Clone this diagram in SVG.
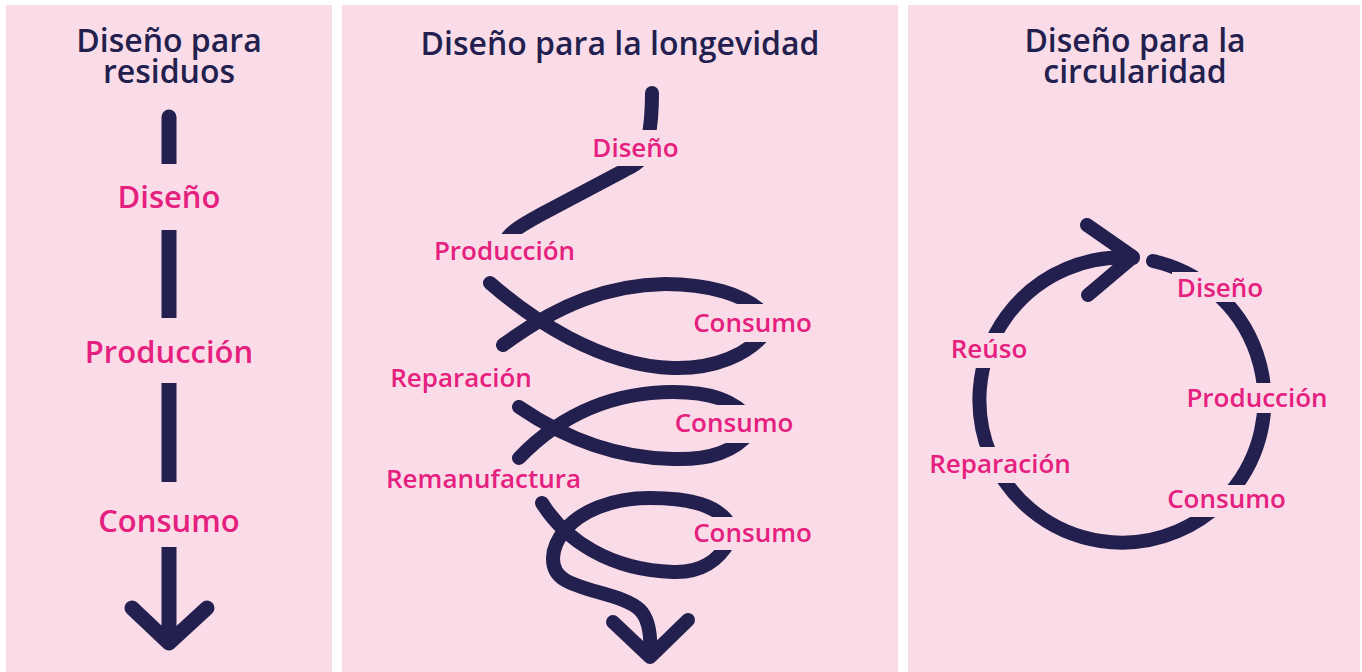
<svg xmlns="http://www.w3.org/2000/svg" width="1362" height="672" viewBox="0 0 1362 672">
<style>
.panel{fill:#FADCE9}
.bg{fill:#FADCE9}
.title{font-family:"Open Sans","Liberation Sans",sans-serif;font-weight:600;font-size:32px;fill:#231F4E;text-anchor:middle}
.lbl{font-family:"Open Sans","Liberation Sans",sans-serif;font-weight:600;font-size:26px;fill:#E6207E;text-anchor:middle}
.lbl1{font-family:"Open Sans","Liberation Sans",sans-serif;font-weight:600;font-size:31px;fill:#E6207E;text-anchor:middle}
.ln{fill:none;stroke:#231F4E;stroke-width:14;stroke-linecap:round;stroke-linejoin:round}
</style>
<rect width="1362" height="672" fill="#FFFFFF"/>
<g id="panels">
<rect class="panel" x="6" y="5" width="326" height="667"/>
<rect class="panel" x="342" y="5" width="556" height="667"/>
<rect class="panel" x="908" y="5" width="452" height="667"/>
</g>
<g id="titles">
<text class="title" x="169" y="52">Diseño para<tspan x="169" dy="31">residuos</tspan></text>
<text class="title" x="620" y="55">Diseño para la longevidad</text>
<text class="title" x="1135" y="52">Diseño para la<tspan x="1135" dy="31">circularidad</tspan></text>
</g>
<g id="connectors">
<path class="ln" style="stroke-width:15" d="M169,117 L169,643 M132,608 L169,643 L207,608"/>
<path class="ln" d="M652,93 C652,110 651,125 648,140 C645,158 640,163 625,170 L540,215 C520,226 508,233 503,245"/>
<path class="ln" d="M490,283 C530,318 600,366 673,368 C715,369 748,355 768,330"/>
<path class="ln" d="M765,315 C745,293 705,284 665,284 C610,285 560,303 503,345"/>
<path class="ln" d="M519,407 C560,435 610,458 673,459 C710,460 735,452 752,430"/>
<path class="ln" d="M750,420 C735,400 710,392 673,392 C620,392 565,410 519,458"/>
<path class="ln" d="M542,503 C565,540 610,570 673,572 C700,573 718,562 730,540"/>
<path class="ln" d="M730,525 C718,505 690,498 650,498 C610,498 580,512 565,530 C550,548 548,570 565,580 C585,592 625,595 640,610 C650,620 651,640 650,656 M613,622 L650,657 L688,620"/>
<path class="ln" d="M1153,261 A142.5,142.5 0 1 1 1133,258 M1087,225 L1133,257 L1088,295"/>
</g>
<g id="n1-diseno"><rect class="bg" x="100" y="164" width="140" height="66"/><text class="lbl1" x="169" y="208">Diseño</text></g>
<g id="n1-produccion"><rect class="bg" x="80" y="318" width="180" height="65"/><text class="lbl1" x="169" y="363">Producción</text></g>
<g id="n1-consumo"><rect class="bg" x="95" y="482" width="150" height="65"/><text class="lbl1" x="169" y="532">Consumo</text></g>
<g id="n2-diseno"><rect class="bg" x="588" y="130" width="94" height="36"/><text class="lbl" x="635.5" y="157">Diseño</text></g>
<g id="n2-produccion"><rect class="bg" x="428" y="234" width="154" height="36"/><text class="lbl" x="504.5" y="260">Producción</text></g>
<g id="n2-consumo1"><rect class="bg" x="686" y="304" width="130" height="38"/><text class="lbl" x="752.5" y="332">Consumo</text></g>
<g id="n2-reparacion"><text class="lbl" x="461" y="387">Reparación</text></g>
<g id="n2-consumo2"><rect class="bg" x="670" y="405" width="130" height="38"/><text class="lbl" x="734" y="432">Consumo</text></g>
<g id="n2-remanufactura"><text class="lbl" x="483.5" y="488">Remanufactura</text></g>
<g id="n2-consumo3"><rect class="bg" x="688" y="517" width="128" height="33"/><text class="lbl" x="752.5" y="542">Consumo</text></g>
<g id="n3-diseno"><rect class="bg" x="1172" y="272" width="96" height="30"/><text class="lbl" x="1220" y="297">Diseño</text></g>
<g id="n3-reuso"><rect class="bg" x="945" y="333" width="88" height="35"/><text class="lbl" x="989" y="358">Reúso</text></g>
<g id="n3-produccion"><rect class="bg" x="1181" y="383" width="152" height="30"/><text class="lbl" x="1257" y="407">Producción</text></g>
<g id="n3-reparacion"><rect class="bg" x="922" y="447" width="156" height="36"/><text class="lbl" x="1000" y="473">Reparación</text></g>
<g id="n3-consumo"><rect class="bg" x="1162" y="485" width="129" height="32"/><text class="lbl" x="1226.5" y="508">Consumo</text></g>
</svg>
